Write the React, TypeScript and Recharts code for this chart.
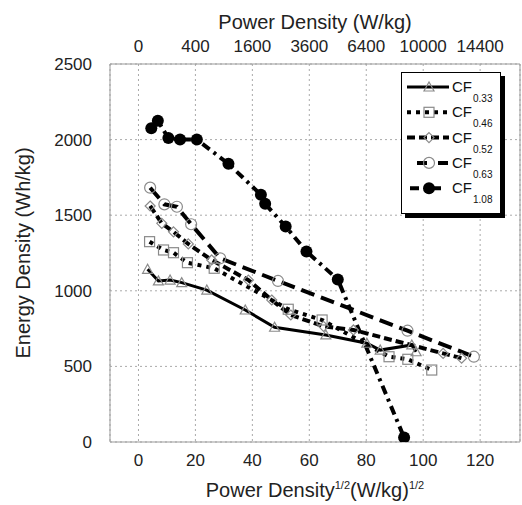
import { CartesianGrid, Line, LineChart, ReferenceArea, XAxis, YAxis } from "recharts";

const xTicks = [0, 20, 40, 60, 80, 100, 120];
const yTicks = [0, 500, 1000, 1500, 2000, 2500];

// sqrt(power density) on x, energy density on y
const cf033X = [3.2, 7, 11.1, 15.2, 24, 37.5, 47.8, 65.8, 80.2, 84.9, 96, 97.5];
const cf033Y = [1142, 1065, 1071, 1054, 1005, 873, 759, 708, 653, 608, 642, 597];

const cf046X = [3.9, 8.8, 12.3, 17.2, 26.6, 52.6, 64.5, 88, 94.6, 103];
const cf046Y = [1325, 1270, 1252, 1186, 1149, 878, 807, 564, 547, 476];

const cf052X = [4.1, 8.2, 12.3, 17.5, 25.7, 38.6, 46.8, 53.5, 65, 75.5, 107, 113.5];
const cf052Y = [1561, 1446, 1390, 1310, 1204, 1071, 939, 840, 765, 741, 586, 554];

const cf063X = [4.1, 9.1, 13.5, 18.5, 28.7, 49, 94.5, 117.8];
const cf063Y = [1682, 1572, 1556, 1440, 1215, 1065, 736, 564];

const cf108X = [4.5, 6.8, 10.5, 14.6, 20.5, 31.6, 43, 44.5, 51.7, 59, 70, 93.3];
const cf108Y = [2075, 2125, 2010, 2000, 2000, 1840, 1635, 1575, 1425, 1260, 1075, 30];

type Shape = "triangle" | "square" | "diamond" | "circle" | "disc";

const series: { name: string; xs: number[]; ys: number[]; shape: Shape; dash?: string; width: number }[] = [
  { name: "0.33", xs: cf033X, ys: cf033Y, shape: "triangle", width: 3 },
  { name: "0.46", xs: cf046X, ys: cf046Y, shape: "square", dash: "4 5", width: 4 },
  { name: "0.52", xs: cf052X, ys: cf052Y, shape: "diamond", dash: "8 4", width: 4 },
  { name: "0.63", xs: cf063X, ys: cf063Y, shape: "circle", dash: "14 7", width: 4 },
  { name: "1.08", xs: cf108X, ys: cf108Y, shape: "disc", dash: "9 5 3 5", width: 4 },
];

const font = '"Liberation Sans", Arial, Helvetica, sans-serif';
const gray = "#8a8a8a";

function Marker({ cx, cy, shape }: { cx: number; cy: number; shape: Shape }) {
  if (shape === "triangle")
    return <polygon points={`${cx},${cy - 5} ${cx - 5},${cy + 4} ${cx + 5},${cy + 4}`} fill="none" stroke={gray} strokeWidth={1.2} />;
  if (shape === "square") return <rect x={cx - 5} y={cy - 5} width={10} height={10} fill="none" stroke={gray} strokeWidth={1.2} />;
  if (shape === "diamond")
    return <polygon points={`${cx},${cy - 5} ${cx + 5},${cy} ${cx},${cy + 5} ${cx - 5},${cy}`} fill="none" stroke={gray} strokeWidth={1.2} />;
  if (shape === "circle") return <circle cx={cx} cy={cy} r={5.5} fill="none" stroke={gray} strokeWidth={1.2} />;
  return <circle cx={cx} cy={cy} r={6} fill="#000" />;
}

function LegendBox() {
  return (
    <div
      style={{
        position: "absolute",
        left: 401,
        top: 72,
        width: 98,
        height: 140,
        border: "1.5px solid #000",
        boxShadow: "4px 4px 0 #000",
        background: "#fff",
        fontFamily: font,
      }}
    >
      <svg width={98} height={140}>
        {series.map((s, i) => {
          const y = 14 + i * 25.3;
          const x1 = s.shape === "circle" ? 15 : s.shape === "disc" ? 8 : 5;
          const x2 = s.shape === "disc" ? 43 : 47;
          return (
            <g key={s.name}>
              <line
                x1={x1}
                x2={x2}
                y1={y}
                y2={y}
                stroke="#000"
                strokeWidth={s.width}
                strokeDasharray={s.shape === "circle" ? "10 11" : s.dash}
              />
              <Marker cx={27} cy={y} shape={s.shape} />
              <text x={50} y={y + 5} fontSize={15} fill="#111">
                CF
              </text>
              <text x={71} y={y + 15} fontSize={10} fill="#111">
                {s.name}
              </text>
            </g>
          );
        })}
      </svg>
    </div>
  );
}

export default function App() {
  return (
    <div style={{ position: "absolute", left: 0, top: 0, width: 522, height: 505, background: "#fff" }}>
      <LineChart width={522} height={505} margin={{ top: 0, right: 2, bottom: 0, left: 0 }} style={{ fontFamily: font }}>
        <CartesianGrid xAxisId="b" stroke="#aaa" strokeDasharray="2 3" />
        <XAxis
          xAxisId="b"
          type="number"
          dataKey="x"
          domain={[-10, 134]}
          ticks={xTicks}
          allowDataOverflow
          height={63}
          tickLine={false}
          axisLine={false}
          tickMargin={6}
          tick={{ fontSize: 17, fill: "#222" }}
          label={{
            content: ({ viewBox }: any) => (
              <text x={viewBox.x + viewBox.width / 2} y={viewBox.y + 55} textAnchor="middle" fontSize={20} fill="#222">
                Power Density
                <tspan dy={-8} fontSize={11}>1/2</tspan>
                <tspan dy={8}>(W/kg)</tspan>
                <tspan dy={-8} fontSize={11}>1/2</tspan>
              </text>
            ),
          }}
        />
        <XAxis
          xAxisId="t"
          orientation="top"
          type="number"
          dataKey="x"
          domain={[-10, 134]}
          ticks={xTicks}
          allowDataOverflow
          height={64}
          tickLine={false}
          axisLine={false}
          tickMargin={6}
          tickFormatter={(v: number) => String(v * v)}
          tick={{ fontSize: 17, fill: "#222" }}
          label={{
            content: ({ viewBox }: any) => (
              <text x={viewBox.x + viewBox.width / 2} y={29} textAnchor="middle" fontSize={20} fill="#222">
                Power Density (W/kg)
              </text>
            ),
          }}
        />
        <YAxis
          type="number"
          domain={[0, 2500]}
          ticks={yTicks}
          allowDataOverflow
          width={110}
          tickLine={false}
          axisLine={false}
          tickMargin={12}
          tick={{ fontSize: 17, fill: "#222" }}
          label={{
            content: ({ viewBox }: any) => {
              const cy = viewBox.y + viewBox.height / 2;
              return (
                <text x={30} y={cy} transform={`rotate(-90, 30, ${cy})`} textAnchor="middle" fontSize={20} fill="#222">
                  Energy Density (Wh/kg)
                </text>
              );
            },
          }}
        />
        <ReferenceArea xAxisId="b" x1={-10} x2={134} y1={0} y2={2500} fill="none" stroke="#999" strokeWidth={1} ifOverflow="visible" />
        {series.map((s) => (
          <Line
            key={s.name}
            xAxisId="b"
            data={s.xs.map((x, i) => ({ x, y: s.ys[i] }))}
            dataKey="y"
            stroke="#000"
            strokeWidth={s.width}
            strokeDasharray={s.dash}
            isAnimationActive={false}
            dot={(p: any) => <Marker key={`${s.name}-${p.index}`} cx={p.cx} cy={p.cy} shape={s.shape} />}
            activeDot={false}
          />
        ))}
      </LineChart>
      <LegendBox />
    </div>
  );
}
